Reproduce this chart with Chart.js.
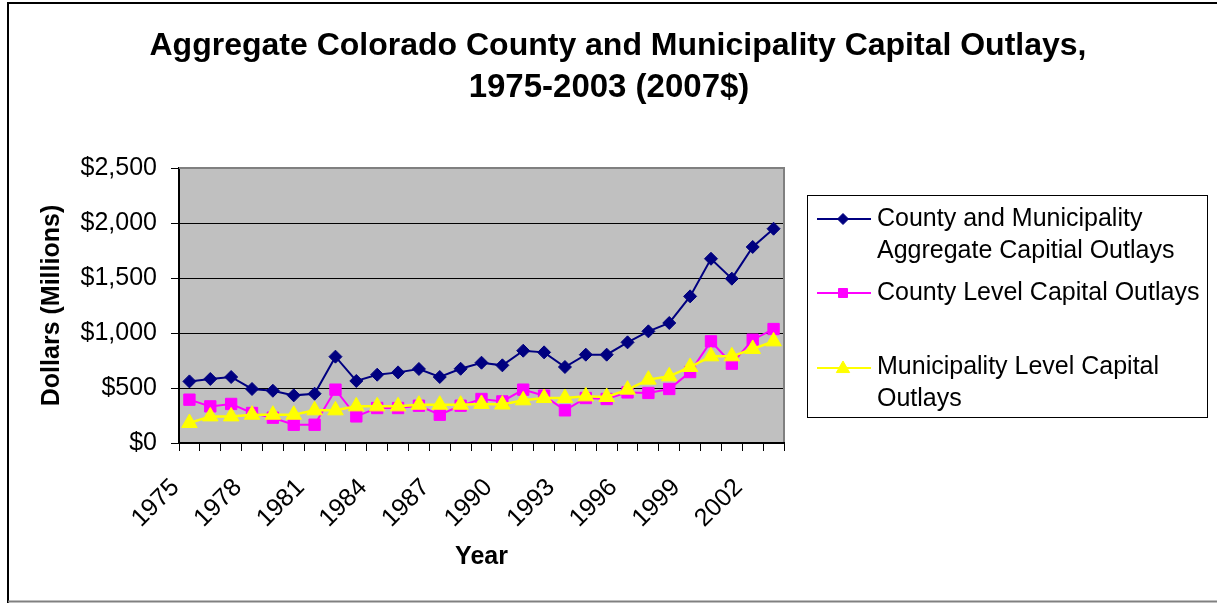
<!DOCTYPE html>
<html><head><meta charset="utf-8">
<script src="https://cdn.jsdelivr.net/npm/chart.js@4.4.0/dist/chart.umd.min.js"></script>
<style>html,body{margin:0;padding:0;background:#fff;}#wrap{width:1217px;height:603px;position:relative;}</style>
</head><body><div id="wrap"><canvas id="c" width="1217" height="603"></canvas></div>
<script>
const years = ['1975','1976','1977','1978','1979','1980','1981','1982','1983','1984','1985','1986','1987','1988','1989','1990','1991','1992','1993','1994','1995','1996','1997','1998','1999','2000','2001','2002','2003'];
const shownYears = ['1975','1978','1981','1984','1987','1990','1993','1996','1999','2002'];
const aggregate = [560,582,600,491,475,433,448,785,564,621,642,673,600,675,730,706,839,824,691,803,803,915,1015,1091,1333,1675,1494,1782,1948];
const county = [394,333,355,273,230,166,166,485,242,318,318,339,257,339,400,378,485,430,297,409,400,460,455,491,645,924,721,939,1036];
const municipality = [182,242,242,257,257,257,297,297,333,333,333,348,348,348,355,350,388,409,409,424,418,485,576,606,691,788,788,855,924];
const yTicks = [0,500,1000,1500,2000,2500];
const seriesNames = ['County and Municipality Aggregate Capitial Outlays','County Level Capital Outlays','Municipality Level Capital Outlays'];
const titleLines = ['Aggregate Colorado County and Municipality Capital Outlays,','1975-2003 (2007$)'];

const FONT = '"Liberation Sans", Arial, sans-serif';
Chart.defaults.font.family = FONT;
Chart.defaults.color = '#000';

function marker(ctx, type, x, y, r, color) {
  ctx.save();
  ctx.fillStyle = color; ctx.strokeStyle = color; ctx.lineWidth = 1;
  ctx.beginPath();
  if (type === 'rectRot') { ctx.moveTo(x - r, y); ctx.lineTo(x, y - r); ctx.lineTo(x + r, y); ctx.lineTo(x, y + r); ctx.closePath(); }
  else if (type === 'rect') { ctx.rect(x - r, y - r, 2 * r, 2 * r); }
  else { ctx.moveTo(x, y - r); ctx.lineTo(x + r * 0.95, y + r * 0.65); ctx.lineTo(x - r * 0.95, y + r * 0.65); ctx.closePath(); }
  ctx.fill(); ctx.stroke();
  ctx.restore();
}

const deco = {
  id: 'deco',
  beforeDraw(chart) {
    const {ctx, chartArea: a} = chart;
    ctx.save();
    ctx.fillStyle = '#fff'; ctx.fillRect(0, 0, chart.width, chart.height);
    ctx.fillStyle = '#C0C0C0';
    ctx.fillRect(a.left, a.top, a.right - a.left, a.bottom - a.top);
    ctx.restore();
  },
  beforeDatasetsDraw(chart) {
    const {ctx, chartArea: a} = chart;
    ctx.save();
    ctx.strokeStyle = '#808080'; ctx.lineWidth = 2;
    ctx.beginPath(); ctx.moveTo(a.left, a.top); ctx.lineTo(a.right, a.top); ctx.lineTo(a.right, a.bottom - 1); ctx.stroke();
    ctx.restore();
  },
  afterDraw(chart) {
    const ctx = chart.ctx;
    ctx.save();
    ctx.strokeStyle = '#000'; ctx.lineWidth = 2;
    ctx.beginPath(); ctx.moveTo(8, 603); ctx.lineTo(8, 3); ctx.lineTo(1217, 3); ctx.stroke();
    ctx.strokeStyle = '#808080';
    ctx.beginPath(); ctx.moveTo(8, 601.5); ctx.lineTo(1217, 601.5); ctx.stroke();
    ctx.fillStyle = '#000';
    ctx.font = 'bold 32px ' + FONT;
    ctx.textAlign = 'center'; ctx.textBaseline = 'alphabetic';
    ctx.fillText(titleLines[0], 618, 55);
    ctx.font = 'bold 33px ' + FONT;
    ctx.fillText(titleLines[1], 609, 97);
    ctx.strokeStyle = '#000'; ctx.lineWidth = 1;
    ctx.strokeRect(807.5, 195.5, 400, 222);
    ctx.font = '25px ' + FONT;
    ctx.textAlign = 'left';
    const ds = chart.data.datasets;
    const entries = [
      {lines: ['County and Municipality', 'Aggregate Capitial Outlays'], base: [226, 258], my: 219},
      {lines: ['County Level Capital Outlays'], base: [300], my: 293},
      {lines: ['Municipality Level Capital', 'Outlays'], base: [374, 406], my: 368}
    ];
    const mr = [5.5, 4.5, 7];
    entries.forEach((e, i) => {
      const d = ds[i];
      ctx.strokeStyle = d.borderColor; ctx.lineWidth = 2;
      ctx.beginPath(); ctx.moveTo(817, e.my); ctx.lineTo(871, e.my); ctx.stroke();
      marker(ctx, d.pointStyle, 843, e.my, mr[i], d.borderColor);
      ctx.fillStyle = '#000';
      e.lines.forEach((t, j) => ctx.fillText(t, 877, e.base[j]));
    });
    ctx.restore();
  }
};

new Chart(document.getElementById('c'), {
  type: 'line',
  data: {
    labels: years,
    datasets: [
      {label: seriesNames[0], data: aggregate, order: 2, borderColor: '#000080', backgroundColor: '#000080', borderWidth: 2, pointStyle: 'rectRot', pointRadius: 6.5, pointBorderWidth: 1, tension: 0},
      {label: seriesNames[1], data: county, order: 1, borderColor: '#FF00FF', backgroundColor: '#FF00FF', borderWidth: 2, pointStyle: 'rect', pointRadius: 8, pointBorderWidth: 1, tension: 0},
      {label: seriesNames[2], data: municipality, order: 0, borderColor: '#FFFF00', backgroundColor: '#FFFF00', borderWidth: 2.5, pointStyle: 'triangle', pointRadius: 9, pointBorderWidth: 1, tension: 0}
    ]
  },
  options: {
    responsive: false,
    animation: false,
    devicePixelRatio: 1,
    layout: {padding: {top: 168, right: 433, left: 0, bottom: 0}},
    plugins: {legend: {display: false}, title: {display: false}, tooltip: {enabled: false}},
    scales: {
      x: {
        type: 'category',
        offset: true,
        afterFit(s) { s.height = 160; },
        grid: {offset: true, drawOnChartArea: false, drawTicks: true, tickLength: 8, color: '#000', lineWidth: 1},
        border: {display: true, color: '#000', width: 2},
        ticks: {
          autoSkip: false, maxRotation: 45, minRotation: 45, padding: 22, labelOffset: -14,
          font: {size: 25},
          callback(v) { const l = this.getLabelForValue(v); return shownYears.includes(l) ? l : ''; }
        },
        title: {display: true, text: 'Year', font: {size: 25, weight: 'bold'}, padding: {top: 0, bottom: 31}}
      },
      y: {
        min: 0, max: 2500,
        afterFit(s) { s.width = 179; },
        afterBuildTicks(s) { s.ticks = yTicks.map(v => ({value: v})); },
        grid: {color: '#000', lineWidth: 1, tickLength: 8, drawTicks: true},
        border: {display: true, color: '#000', width: 2},
        ticks: {padding: 14, font: {size: 25}, callback: v => '$' + v.toLocaleString('en-US')},
        title: {display: true, text: 'Dollars (Millions)', font: {size: 25, weight: 'bold'}, padding: {top: 37, bottom: 0}}
      }
    }
  },
  plugins: [deco]
});
</script></body></html>
